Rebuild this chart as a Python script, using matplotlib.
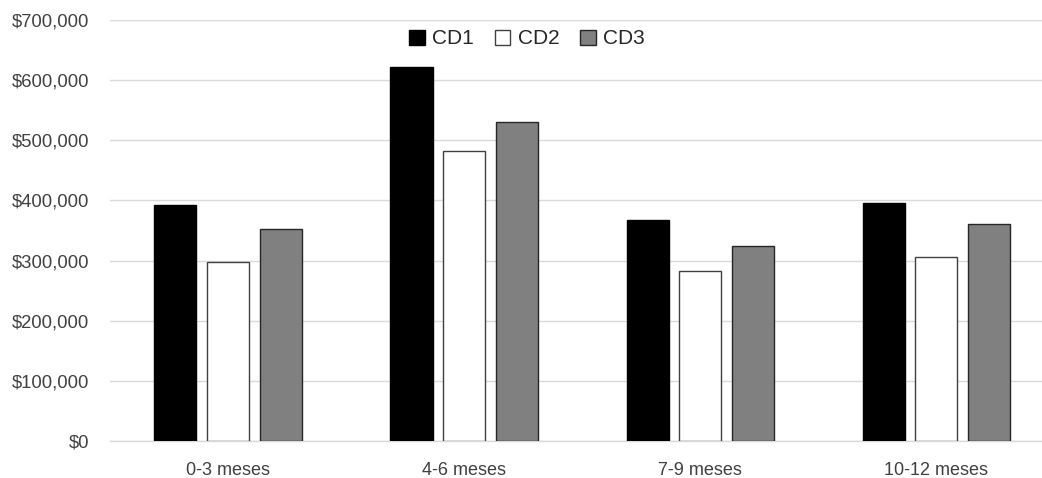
import matplotlib
matplotlib.use("Agg")
import matplotlib.pyplot as plt
import numpy as np
from matplotlib.ticker import FuncFormatter

categories = ["0-3 meses", "4-6 meses", "7-9 meses", "10-12 meses"]
cd1 = [392000, 622000, 368000, 396000]
cd2 = [297000, 483000, 282000, 306000]
cd3 = [352000, 531000, 324000, 360000]
series_names = ["CD1", "CD2", "CD3"]

plt.rcParams['font.family'] = ['Liberation Sans', 'DejaVu Sans']

fig = plt.figure(figsize=(10.42, 4.78), dpi=100)
ax = fig.add_axes([110/1042, (478-441)/478, (1042-110)/1042, (441-20)/478])

x = np.arange(len(categories))
w = 0.178
step = 0.2225
styles = [dict(facecolor="#000000", edgecolor="#000000"),
          dict(facecolor="#ffffff", edgecolor="#404040"),
          dict(facecolor="#808080", edgecolor="#262626")]
for i, (vals, name) in enumerate(zip([cd1, cd2, cd3], series_names)):
    ax.bar(x + (i - 1) * step, vals, width=w, label=name, linewidth=1.0,
           zorder=3, **styles[i])

ax.set_xlim(-0.5, 3.449)
ax.set_ylim(0, 700000)
ax.set_yticks(np.arange(0, 700001, 100000))
ax.yaxis.set_major_formatter(FuncFormatter(lambda v, p: "${:,.0f}".format(v)))
ax.set_xticks(x)
ax.set_xticklabels(categories)
ax.grid(axis='y', color="#d9d9d9", linewidth=1.0, zorder=0)
for s in ["top", "right", "left"]:
    ax.spines[s].set_visible(False)
ax.spines["bottom"].set_color("#d9d9d9")
ax.spines["bottom"].set_linewidth(1.0)
ax.tick_params(axis='y', length=0, pad=15, labelsize=13.3, labelcolor="#404040")
ax.tick_params(axis='x', length=0, pad=15, labelsize=13, labelcolor="#404040")

leg = fig.legend(loc="center", bbox_to_anchor=(527/1042, 1 - 39/478), ncol=3,
                 frameon=False, fontsize=15, handlelength=0.75, handleheight=0.75,
                 handletextpad=0.35, columnspacing=1.0)
for t in leg.get_texts():
    t.set_color("#262626")

fig.savefig("out.png", dpi=100)
